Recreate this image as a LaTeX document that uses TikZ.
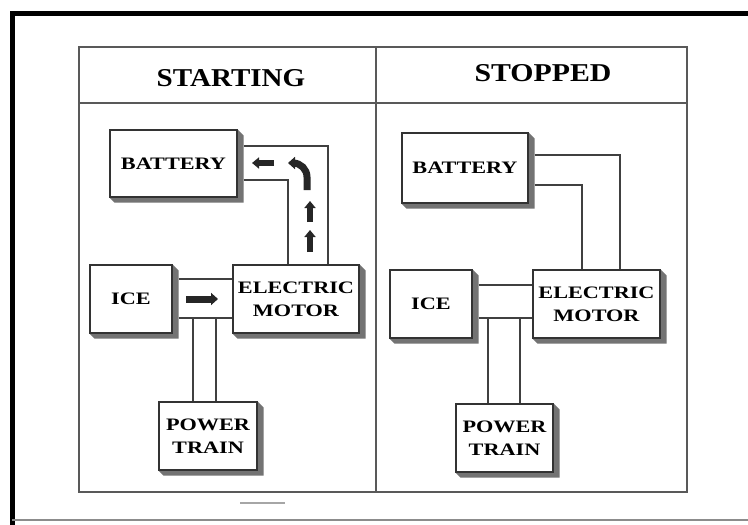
\documentclass[tikz,border=0pt]{standalone}
\usepackage{fontspec}
\usepackage{graphicx}
\setmainfont{Liberation Serif}
\usetikzlibrary{arrows.meta,backgrounds}
\newcommand\lbl[1]{\scalebox{1.27}[1]{#1}}
\newcommand\boxshadow[1]{\fill[sh] (#1.north east) -- ++(6pt,-6pt) -- ([shift={(6pt,-5pt)}]#1.south east) -- ([shift={(5pt,-5pt)}]#1.south west) -- (#1.south west) -- (#1.south east) -- cycle;}
\begin{document}
\begin{tikzpicture}[x=1pt,y=-1pt,
  blk/.style={draw=black!80,line width=1.2pt,fill=white,inner sep=0pt,font=\bfseries\fontsize{17.5}{23}\selectfont,align=center},
  wire/.style={draw=black!75,line width=1.5pt},
  tbl/.style={draw=black!65,line width=1.5pt},
  fat/.style={draw=black!85,line width=6pt,-{Triangle[length=7pt,width=11pt]}},
  sh/.style={fill=black!55},
  ttl/.style={font=\bfseries\fontsize{25.7}{30}\selectfont,inner sep=0pt}]

\useasboundingbox (0,0) rectangle (748,525);

% frame
\draw[black,line width=5pt] (12,525) -- (12,13) -- (748,13);
\draw[black!45,line width=1.5pt] (12,520) -- (748,520);

% table
\draw[tbl] (79,47) rectangle (687,492);
\draw[tbl] (376,47) -- (376,492);
\draw[tbl] (79,103) -- (687,103);
\draw[black!35,line width=1.5pt] (240,503) -- (285,503);

\node[ttl] (tstart) at (231,78.5) {\scalebox{1.13}[1]{STARTING}};
\node[ttl] (tstop) at (543,73.5) {\scalebox{1.16}[1]{STOPPED}};

% left panel
\node[blk,minimum width=127pt,minimum height=67pt] (batL) at (173.5,163.5) {\lbl{BATTERY}};
\node[blk,minimum width=82pt,minimum height=68pt] (iceL) at (131,299) {\lbl{ICE}};
\node[blk,minimum width=126pt,minimum height=68pt] (emL) at (296,299) {\lbl{ELECTRIC}\\\lbl{MOTOR}};
\node[blk,minimum width=98pt,minimum height=68pt] (ptL) at (208,436) {\lbl{POWER}\\\lbl{TRAIN}};

% right panel
\node[blk,minimum width=126pt,minimum height=70pt] (batR) at (465,168) {\lbl{BATTERY}};
\node[blk,minimum width=82pt,minimum height=68pt] (iceR) at (431,304) {\lbl{ICE}};
\node[blk,minimum width=127pt,minimum height=68pt] (emR) at (596.5,304) {\lbl{ELECTRIC}\\\lbl{MOTOR}};
\node[blk,minimum width=97pt,minimum height=68pt] (ptR) at (504.5,438) {\lbl{POWER}\\\lbl{TRAIN}};

\begin{scope}[on background layer]
  \fill[white] (0,0) rectangle (748,525);
  \boxshadow{batL}\boxshadow{iceL}\boxshadow{emL}\boxshadow{ptL}
  \boxshadow{batR}\boxshadow{iceR}\boxshadow{emR}\boxshadow{ptR}
\end{scope}

% left wires
\draw[wire] (batL.east |- 0,146) ++(6,0) -| (emL.north -| 328,0);
\draw[wire] (batL.east |- 0,180) ++(6,0) -| (emL.north -| 288,0);
\draw[wire] (iceL.east |- 0,279) ++(6,0) -- (emL.west |- 0,279);
\draw[wire] (iceL.east |- 0,318) ++(6,0) -- (emL.west |- 0,318);
\coordinate (jl1) at (193,318);
\coordinate (jl2) at (216,318);
\draw[wire] (jl1) -- (ptL.north -| jl1);
\draw[wire] (jl2) -- (ptL.north -| jl2);

% right wires
\draw[wire] (batR.east |- 0,155) ++(6,0) -| (emR.north -| 620,0);
\draw[wire] (batR.east |- 0,185) ++(6,0) -| (emR.north -| 582,0);
\draw[wire] (iceR.east |- 0,285) ++(6,0) -- (emR.west |- 0,285);
\draw[wire] (iceR.east |- 0,318) ++(6,0) -- (emR.west |- 0,318);
\coordinate (jr1) at (488,318);
\coordinate (jr2) at (520,318);
\draw[wire] (jr1) -- (ptR.north -| jr1);
\draw[wire] (jr2) -- (ptR.north -| jr2);

% flow arrows (starting)
\coordinate (a1s) at (274,163);
\coordinate (a1e) at (252,163);
\draw[fat] (a1s) -- (a1e);
\coordinate (a2s) at (307,190);
\coordinate (a2e) at (288,163);
\draw[fat,line width=7pt,-{Triangle[length=7pt,width=12pt]}] (a2s) -- (307,177) arc[start angle=0,end angle=-90,radius=14] -- (a2e);
\coordinate (a3s) at (310,222);
\coordinate (a3e) at (310,201);
\draw[fat] (a3s) -- (a3e);
\coordinate (a4s) at (310,252);
\coordinate (a4e) at (310,230);
\draw[fat] (a4s) -- (a4e);
\coordinate (a5s) at (186,299);
\coordinate (a5e) at (218,299);
\draw[fat,line width=7pt,-{Triangle[length=7pt,width=12pt]}] (a5s) -- (a5e);
\end{tikzpicture}
\end{document}
